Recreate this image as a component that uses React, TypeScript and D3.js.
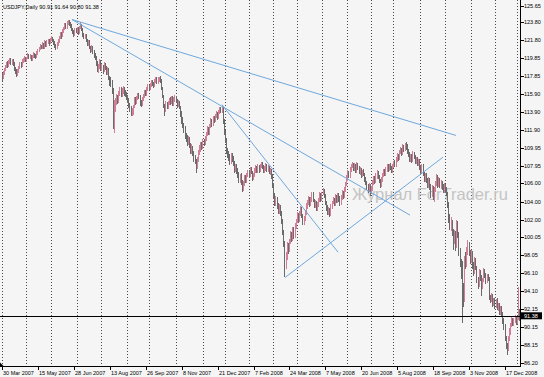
import React from 'react';
import * as d3 from 'd3';

// USDJPY daily, bar index 0 = 30 Mar 2007
const firstOpen = 118.1;
const closes = [
  117.6, 118.2, 118.6, 118.9, 119.2, 119.1, 119.4, 119.7, 119.3, 119.5,
  119.2, 118.6, 118.3, 118.0, 118.4, 118.8, 119.2, 119.0, 119.5, 119.6,
  119.9, 119.6, 119.8, 120.2, 119.9, 120.1, 119.7, 120.0, 120.3, 120.1,
  120.0, 120.4, 120.7, 120.9, 121.2, 121.0, 121.4, 121.1, 121.6, 121.3,
  121.6, 121.8, 121.5, 121.9, 122.1, 121.8, 121.5, 121.2, 121.0, 121.4,
  121.6, 122.1, 122.5, 122.3, 122.8, 123.1, 123.5, 123.3, 123.7, 123.9,
  123.6, 123.4, 123.0, 122.7, 122.5, 123.0, 122.8, 123.1, 122.6, 123.2,
  123.4, 123.0, 122.4, 122.1, 122.3, 121.8, 121.4, 121.6, 121.0, 120.7,
  121.0, 120.5, 120.2, 119.9, 119.3, 118.6, 118.9, 119.4, 118.7, 118.9,
  118.5, 119.1, 118.8, 118.3, 118.6, 117.6, 117.2, 117.1, 116.3, 113.5,
  114.2, 115.0, 115.6, 115.1, 115.9, 116.4, 115.8, 116.2, 116.5, 116.0,
  115.8, 115.5, 115.2, 114.6, 114.3, 113.8, 113.9, 114.5, 115.2, 115.0,
  115.4, 115.8, 115.6, 114.9, 114.7, 115.3, 115.6, 116.1, 115.9, 116.4,
  116.7, 116.5, 116.9, 117.2, 117.0, 116.8, 117.3, 117.5, 117.2, 117.6,
  117.6, 117.3, 116.5, 115.6, 114.5, 114.2, 114.8, 114.4, 114.9, 115.2,
  115.0, 115.4, 114.8, 115.3, 115.5, 115.1, 114.6, 114.9, 114.4, 113.6,
  113.0, 112.4, 112.0, 111.3, 111.0, 110.5, 110.9, 110.2, 109.6, 109.9,
  109.3, 108.8, 108.5, 107.9, 108.7, 109.4, 109.8, 110.3, 110.0, 110.6,
  110.4, 110.9, 111.4, 112.0, 111.6, 112.3, 112.9, 112.5, 113.2, 113.0,
  113.4, 113.7, 113.3, 113.9, 114.2, 114.0, 114.3, 112.9, 111.6, 110.8,
  109.5, 109.2, 108.9, 108.4, 109.1, 108.7, 108.3, 107.6, 107.9, 107.4,
  107.0, 106.4, 106.8, 106.1, 105.5, 106.0, 106.6, 106.3, 106.9, 107.2,
  106.9, 107.5, 107.2, 106.6, 106.9, 107.4, 107.7, 107.3, 107.8, 107.5,
  107.9, 108.2, 107.8, 107.4, 107.6, 108.0, 107.5, 107.7, 107.2, 107.4,
  106.8, 105.8, 104.6, 103.8, 104.3, 103.5, 102.9, 103.4, 102.7, 101.8,
  100.6, 99.3, 97.0, 97.8, 99.1, 98.6, 99.6, 100.4, 99.8, 100.9,
  100.2, 101.3, 101.8, 102.5, 101.9, 102.6, 103.2, 102.4, 101.7, 102.1,
  102.8, 103.5, 103.9, 104.3, 103.7, 104.2, 104.8, 104.1, 103.6, 103.9,
  103.2, 103.6, 104.1, 104.7, 104.3, 104.9, 105.2, 104.6, 103.9, 103.3,
  102.8, 103.1, 102.6, 103.4, 103.9, 104.2, 103.7, 104.5, 104.0, 104.6,
  104.3, 103.8, 104.4, 105.0, 104.6, 105.3, 105.9, 106.6, 107.2, 106.9,
  107.5, 107.9, 108.2, 107.6, 108.0, 107.4, 108.1, 107.7, 107.2, 107.5,
  106.9, 107.3, 107.0, 106.4, 106.0, 105.6, 105.2, 105.7, 105.0, 105.4,
  106.1, 106.5, 106.2, 106.8, 107.2, 106.7, 106.3, 105.8, 106.4, 106.9,
  107.3, 107.0, 107.5, 107.9, 107.6, 108.0, 107.7, 107.4, 107.9, 108.3,
  108.0, 108.6, 109.1, 108.8, 109.4, 109.7, 109.3, 110.0, 109.8, 110.2,
  110.0, 109.5, 109.2, 108.7, 109.0, 108.6, 109.3, 108.9, 108.4, 108.7,
  108.2, 108.5, 107.8, 107.3, 107.9, 107.1, 106.5, 107.0, 106.3, 105.8,
  106.4, 105.6, 104.8, 105.5, 104.6, 105.2, 106.0, 106.6, 105.9, 106.4,
  105.8, 106.1, 105.6, 105.2, 105.7, 105.3, 104.9, 103.6, 102.0, 101.2,
  101.8, 100.6, 99.6, 100.4, 99.2, 101.5, 100.3, 98.4, 97.2, 96.0,
  94.3, 93.2, 97.6, 97.3, 98.6, 99.3, 98.4, 97.6, 98.2, 97.0,
  96.2, 97.5, 96.7, 95.4, 94.8, 96.1, 95.6, 94.6, 95.3, 96.4,
  95.8, 95.2, 95.7, 95.5, 93.4, 93.2, 93.6, 92.7, 93.1, 92.4,
  93.0, 92.2, 92.6, 91.8, 92.3, 91.6, 90.8, 90.2, 88.9, 88.0,
  87.8, 88.9, 89.6, 90.3, 90.9, 90.5, 90.8, 91.2, 90.7, 91.0, 92.0, 91.38,
];
const highs = [
  118.2, 118.4, 118.8, 119.1, 119.4, 119.5, 119.6, 119.9, 119.8, 119.7,
  119.7, 119.4, 118.9, 118.6, 118.6, 119.0, 119.4, 119.4, 119.7, 119.9,
  120.1, 120.0, 120.0, 120.4, 120.3, 120.3, 120.2, 120.2, 120.5, 120.4,
  120.3, 120.6, 120.9, 121.1, 121.4, 121.3, 121.6, 121.5, 121.8, 121.7,
  121.8, 122.0, 121.9, 122.1, 122.3, 122.2, 121.9, 121.7, 121.4, 121.6,
  121.9, 122.3, 122.7, 122.7, 123.0, 123.3, 123.7, 123.7, 123.9, 124.0,
  124.1, 123.8, 123.6, 123.2, 122.9, 123.2, 123.2, 123.3, 123.3, 123.4,
  123.8, 123.6, 123.2, 122.6, 122.5, 122.5, 122.0, 121.8, 121.8, 121.2,
  121.3, 121.2, 120.7, 120.4, 120.1, 119.5, 119.2, 119.7, 119.6, 119.2,
  119.1, 119.4, 119.3, 119.0, 118.9, 118.8, 117.9, 117.7, 117.4, 116.5,
  115.2, 115.4, 115.9, 115.8, 116.2, 116.7, 116.6, 116.5, 116.8, 116.7,
  116.3, 116.1, 115.8, 115.4, 114.9, 114.6, 114.3, 114.7, 115.5, 115.5,
  115.7, 116.0, 116.0, 115.8, 115.2, 115.5, 115.9, 116.3, 116.3, 116.6,
  117.0, 116.9, 117.1, 117.4, 117.4, 117.2, 117.5, 117.7, 117.7, 117.8,
  117.8, 117.9, 117.5, 116.7, 115.8, 114.8, 115.1, 115.0, 115.1, 115.4,
  115.5, 115.6, 115.6, 115.5, 115.8, 115.7, 115.3, 115.2, 115.1, 114.6,
  114.0, 113.3, 112.7, 112.3, 111.6, 111.3, 111.2, 111.1, 110.5, 110.3,
  110.1, 109.6, 109.1, 108.7, 108.9, 109.7, 110.2, 110.6, 110.6, 110.9,
  110.9, 111.2, 111.7, 112.3, 112.2, 112.6, 113.2, 113.1, 113.5, 113.5,
  113.7, 114.0, 113.9, 114.1, 114.4, 114.4, 114.6, 114.4, 113.1, 111.9,
  111.0, 109.9, 109.6, 109.2, 109.4, 109.4, 109.0, 108.5, 108.2, 108.2,
  107.7, 107.3, 107.0, 107.1, 106.4, 106.3, 106.9, 106.9, 107.2, 107.5,
  107.5, 107.8, 107.8, 107.4, 107.2, 107.7, 108.0, 107.9, 108.1, 108.0,
  108.2, 108.4, 108.4, 108.0, 107.9, 108.3, 108.2, 108.0, 107.9, 107.7,
  107.6, 107.0, 106.0, 104.9, 104.6, 104.5, 103.8, 103.7, 103.6, 102.9,
  102.1, 100.9, 99.6, 98.4, 99.5, 99.4, 99.9, 100.7, 100.6, 101.2,
  101.2, 101.6, 102.1, 102.8, 102.7, 102.9, 103.5, 103.4, 102.6, 102.4,
  103.1, 103.8, 104.2, 104.6, 104.5, 104.5, 105.1, 105.0, 104.3, 104.2,
  104.1, 103.9, 104.4, 105.0, 104.9, 105.1, 105.5, 105.4, 104.8, 104.1,
  103.6, 103.4, 103.3, 103.7, 104.1, 104.5, 104.4, 104.8, 104.7, 104.9,
  104.9, 104.6, 104.7, 105.3, 105.2, 105.6, 106.2, 106.9, 107.5, 107.4,
  107.8, 108.1, 108.4, 108.3, 108.3, 108.2, 108.4, 108.3, 107.9, 107.8,
  107.7, 107.5, 107.6, 107.2, 106.7, 106.3, 105.9, 106.0, 105.9, 105.7,
  106.4, 106.8, 106.8, 107.1, 107.5, 107.4, 106.9, 106.5, 106.7, 107.2,
  107.6, 107.6, 107.8, 108.2, 108.1, 108.2, 108.3, 107.9, 108.1, 108.5,
  108.6, 108.9, 109.4, 109.3, 109.7, 110.0, 109.9, 110.3, 110.2, 110.5,
  110.6, 110.3, 109.8, 109.5, 109.3, 109.3, 109.6, 109.5, 109.1, 108.9,
  108.9, 108.7, 108.7, 108.0, 108.2, 108.1, 107.3, 107.2, 107.2, 106.6,
  106.7, 106.6, 105.9, 105.8, 105.7, 105.6, 106.3, 107.0, 106.9, 106.7,
  106.6, 106.4, 106.3, 105.9, 106.0, 105.9, 105.6, 105.1, 103.9, 102.6,
  102.3, 102.0, 101.0, 100.9, 100.7, 102.0, 101.8, 100.6, 98.9, 97.7,
  97.4, 95.0, 98.0, 98.4, 99.0, 99.8, 99.5, 98.7, 98.6, 98.5,
  97.3, 97.9, 97.8, 96.9, 95.7, 96.5, 96.4, 95.9, 95.6, 96.7,
  96.6, 96.1, 96.0, 96.0, 95.7, 93.7, 93.9, 93.8, 93.4, 93.3,
  93.2, 93.3, 92.8, 92.8, 92.5, 92.5, 91.8, 91.1, 90.5, 89.2,
  88.4, 89.2, 90.0, 90.6, 91.3, 91.1, 91.1, 91.5, 91.4, 91.3, 94.6, 92.1,
];
const lows = [
  117.3, 117.5, 118.0, 118.4, 118.7, 118.8, 118.9, 119.2, 119.1, 119.1,
  119.0, 118.4, 118.1, 117.7, 117.9, 118.2, 118.6, 118.8, 118.9, 119.3,
  119.4, 119.4, 119.4, 119.7, 119.7, 119.7, 119.5, 119.5, 119.8, 119.9,
  119.7, 119.9, 120.2, 120.5, 120.7, 120.8, 120.8, 120.9, 120.9, 121.1,
  121.1, 121.4, 121.2, 121.4, 121.7, 121.6, 121.3, 121.0, 120.7, 120.8,
  121.2, 121.5, 121.9, 122.0, 122.2, 122.6, 122.9, 123.1, 123.1, 123.5,
  123.4, 123.2, 122.8, 122.5, 122.2, 122.3, 122.6, 122.6, 122.4, 122.5,
  123.0, 122.8, 122.2, 121.9, 121.9, 121.6, 121.2, 121.2, 120.8, 120.4,
  120.5, 120.3, 119.9, 119.6, 119.0, 118.3, 118.2, 118.6, 118.4, 118.4,
  118.1, 118.3, 118.5, 118.0, 118.0, 117.4, 116.8, 116.7, 115.9, 112.0,
  111.6, 113.9, 114.7, 114.8, 114.9, 115.6, 115.5, 115.5, 115.9, 115.7,
  115.5, 115.2, 114.9, 114.3, 113.9, 113.4, 113.4, 113.6, 114.3, 114.7,
  114.8, 115.2, 115.3, 114.6, 114.4, 114.5, 115.1, 115.4, 115.7, 115.7,
  116.2, 116.3, 116.3, 116.7, 116.8, 116.5, 116.6, 117.1, 117.0, 117.0,
  117.2, 117.1, 116.3, 115.4, 114.3, 113.5, 113.9, 114.2, 114.2, 114.7,
  114.7, 114.8, 114.5, 114.6, 115.0, 114.9, 114.3, 114.4, 114.2, 113.3,
  112.6, 112.1, 111.6, 110.9, 110.6, 110.1, 110.2, 109.9, 109.2, 109.3,
  109.0, 108.4, 108.1, 107.2, 107.6, 108.4, 109.1, 109.5, 109.7, 109.8,
  110.1, 110.2, 110.7, 111.2, 111.3, 111.4, 112.1, 112.2, 112.3, 112.7,
  112.8, 113.2, 113.0, 113.1, 113.7, 113.8, 113.8, 112.6, 111.3, 110.5,
  109.2, 108.8, 108.5, 108.0, 108.2, 108.4, 107.9, 107.2, 107.3, 107.0,
  106.6, 106.1, 106.1, 105.8, 105.0, 105.2, 105.7, 106.0, 106.1, 106.7,
  106.6, 106.7, 107.0, 106.3, 106.4, 106.7, 107.2, 107.1, 107.1, 107.2,
  107.3, 107.7, 107.6, 107.1, 107.2, 107.4, 107.3, 107.3, 107.0, 106.9,
  106.5, 105.5, 104.3, 103.5, 103.5, 103.2, 102.6, 102.6, 102.4, 101.5,
  100.3, 99.0, 95.7, 96.6, 97.5, 98.2, 98.4, 99.3, 99.5, 99.6,
  99.9, 100.0, 101.0, 101.6, 101.6, 101.7, 102.4, 102.2, 101.4, 101.4,
  101.9, 102.5, 103.2, 103.6, 103.4, 103.5, 104.0, 103.9, 103.3, 103.3,
  102.9, 102.9, 103.4, 103.9, 104.0, 104.1, 104.7, 104.4, 103.6, 103.0,
  102.5, 102.5, 102.3, 102.4, 103.2, 103.7, 103.5, 103.5, 103.8, 103.8,
  104.0, 103.5, 103.6, 104.2, 104.3, 104.4, 105.1, 105.7, 106.3, 106.6,
  106.6, 107.3, 107.7, 107.4, 107.4, 107.2, 107.2, 107.5, 107.0, 106.9,
  106.6, 106.7, 106.8, 106.2, 105.8, 105.3, 104.9, 105.0, 104.6, 104.8,
  105.2, 105.8, 105.9, 106.0, 106.5, 106.5, 106.1, 105.5, 105.6, 106.2,
  106.7, 106.8, 106.8, 107.3, 107.3, 107.4, 107.5, 107.1, 107.2, 107.7,
  107.8, 107.8, 108.4, 108.5, 108.6, 109.2, 109.0, 109.1, 109.5, 109.6,
  109.7, 109.3, 108.9, 108.4, 108.4, 108.3, 108.4, 108.7, 108.1, 108.1,
  107.9, 107.9, 107.5, 107.0, 107.1, 106.8, 106.2, 106.2, 106.0, 105.5,
  105.5, 105.3, 104.4, 104.5, 104.2, 103.9, 105.0, 105.7, 105.5, 105.6,
  105.5, 105.4, 105.3, 104.9, 104.9, 105.0, 104.6, 103.3, 101.6, 100.9,
  100.7, 100.2, 98.7, 99.3, 98.5, 98.9, 100.0, 98.0, 96.8, 95.4,
  90.6, 92.4, 92.9, 96.5, 96.8, 98.1, 98.0, 97.1, 97.2, 96.6,
  95.8, 96.0, 96.4, 95.0, 94.3, 94.6, 95.2, 93.6, 94.3, 95.1,
  95.5, 94.9, 95.0, 95.2, 93.1, 92.8, 92.9, 92.4, 92.5, 92.1,
  92.2, 92.0, 91.9, 91.5, 91.5, 91.3, 90.5, 89.8, 88.6, 87.7,
  87.1, 87.5, 88.6, 89.3, 90.1, 90.2, 90.2, 90.6, 90.4, 90.5, 90.9, 90.8,
];

const priceTicks = [
  125.65, 123.8, 121.8, 119.85, 117.85, 115.9, 113.9, 111.9, 109.95, 107.95,
  106.0, 104.0, 102.0, 100.05, 98.05, 96.1, 94.1, 92.15, 90.15, 88.15, 86.2,
];
const dateLabels = [
  '30 Mar 2007', '15 May 2007', '28 Jun 2007', '13 Aug 2007', '26 Sep 2007',
  '8 Nov 2007', '21 Dec 2007', '7 Feb 2008', '24 Mar 2008', '7 May 2008',
  '20 Jun 2008', '5 Aug 2008', '18 Sep 2008', '3 Nov 2008', '17 Dec 2008',
];
const labelEvery = 32;
const monthStarts = [0, 21, 44, 67, 88, 111, 131, 155, 179, 199, 220, 241, 263, 285, 307, 329, 348, 372, 395, 418, 439, 459];
// trend lines: [bar index, price] -> [bar index, price]
const trendLines = [
  [[62.3, 124.1], [404.3, 111.3]],
  [[62.3, 124.1], [363.4, 102.5]],
  [[195.9, 114.7], [299.3, 98.4]],
  [[252, 95.6], [392.8, 108.9]],
];
const symbolTitle = 'USDJPY,Daily';
const lastQuote = ['90.91', '91.64', '90.80', '91.38'];
const bidPrice = 91.38;
const watermark = 'Журнал ForTrader.ru';

export default function App() {
  const W = 544;
  const H = 377;
  const plotR = 520.5;
  const plotB = 366.5;
  const x = d3.scaleLinear().domain([0, 448]).range([2, 505]);
  const y = d3.scaleLinear().domain([86.2, 125.65]).range([362.7, 5.5]);
  const font = "'Liberation Sans', Arial, sans-serif";
  const fs = 5.5;

  const bars = closes.map((c, i) => {
    const o = i === 0 ? firstOpen : closes[i - 1];
    return { i, o, c, h: Math.max(highs[i], o, c), l: Math.min(lows[i], o, c) };
  });

  return (
    <svg
      width={W}
      height={H}
      viewBox={`0 0 ${W} ${H}`}
      style={{ position: 'absolute', left: 0, top: 0, display: 'block' }}
      fontFamily={font}
    >
      <defs>
        <clipPath id="plot">
          <rect x={0} y={0} width={plotR} height={plotB} />
        </clipPath>
      </defs>
      <rect x={0} y={0} width={W} height={H} fill="#f5f5f5" />

      {/* month grid */}
      <g shapeRendering="crispEdges">
        {monthStarts.map((m, k) => (
          <line
            key={k}
            x1={Math.round(x(m)) + 0.5}
            x2={Math.round(x(m)) + 0.5}
            y1={0}
            y2={plotB}
            stroke="#4a4a4a"
            strokeDasharray="1,2"
          />
        ))}
      </g>

      <g clipPath="url(#plot)">
        <text x={352} y={200} fontSize={16.5} fill="#c4c4c4" fontFamily={font}>
          {watermark}
        </text>
      </g>

      {/* bars */}
      <g clipPath="url(#plot)" shapeRendering="crispEdges">
        {bars.map((b) => {
          const up = b.c >= b.o;
          const y1 = y(b.h);
          const y2 = y(b.l);
          return (
            <rect
              key={b.i}
              x={Math.floor(x(b.i))}
              y={y1}
              width={1}
              height={Math.max(1, y2 - y1)}
              fill={up ? '#d07d95' : '#6a6a6a'}
            />
          );
        })}
      </g>

      {/* trend lines */}
      <g clipPath="url(#plot)">
        {trendLines.map((ln, k) => (
          <line
            key={k}
            x1={x(ln[0][0])}
            y1={y(ln[0][1])}
            x2={x(ln[1][0])}
            y2={y(ln[1][1])}
            stroke="#6fa8dc"
            strokeWidth={1}
          />
        ))}
      </g>

      {/* bid line */}
      <line
        x1={0}
        x2={plotR}
        y1={Math.round(y(bidPrice)) + 0.5}
        y2={Math.round(y(bidPrice)) + 0.5}
        stroke="#000"
        shapeRendering="crispEdges"
      />

      {/* axes */}
      <g shapeRendering="crispEdges" stroke="#000">
        <line x1={plotR} x2={plotR} y1={0} y2={plotB} />
        <line x1={0} x2={plotR} y1={plotB} y2={plotB} />
      </g>
      <polygon points={`0,${plotB - 4} 0,${plotB} 4,${plotB}`} fill="#000" />

      {/* price scale */}
      <g fontSize={fs} fill="#000">
        {priceTicks.map((v, k) => {
          const yy = y(v);
          return (
            <g key={k}>
              <line x1={plotR} x2={plotR + 3} y1={Math.round(yy) + 0.5} y2={Math.round(yy) + 0.5} stroke="#000" shapeRendering="crispEdges" />
              <text x={524} y={yy + 2}>{v.toFixed(2)}</text>
            </g>
          );
        })}
        <rect x={521} y={y(bidPrice) - 3.5} width={21} height={7} fill="#000" />
        <text x={524} y={y(bidPrice) + 2} fill="#fff">{bidPrice.toFixed(2)}</text>
      </g>

      {/* time scale */}
      <g fontSize={fs} fill="#000">
        {dateLabels.map((d, k) => {
          const xx = Math.round(x(k * labelEvery)) + 0.5;
          return (
            <g key={k}>
              <line x1={xx} x2={xx} y1={plotB} y2={plotB + 3} stroke="#000" shapeRendering="crispEdges" />
              <text x={xx + 0.5} y={374.5}>{d}</text>
            </g>
          );
        })}
      </g>

      {/* header */}
      <text x={3} y={8.5} fontSize={fs} fill="#000">
        {symbolTitle + '  ' + lastQuote.join(' ')}
      </text>
    </svg>
  );
}
